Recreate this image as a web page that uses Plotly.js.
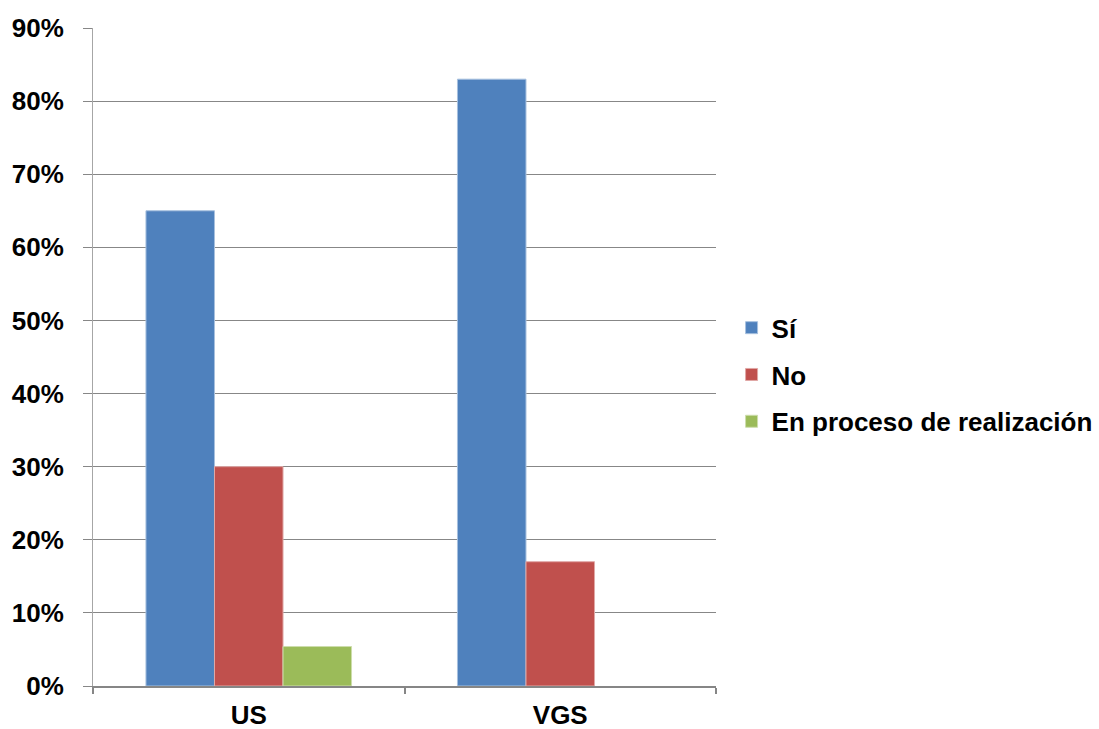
<!DOCTYPE html>
<html><head><meta charset="utf-8">
<script src="https://cdn.plot.ly/plotly-3.0.1.min.js"></script>
<style>html,body{margin:0;padding:0;background:#fff;}#chart{width:1099px;height:729px;}</style>
</head><body><div id="chart"></div>
<script>
const categories = ["US", "VGS"];
const seriesNames = ["Sí", "No", "En proceso de realización"];
const valuesSi = [65, 83];
const valuesNo = [30, 17];
const valuesProceso = [5.4, null];
const yTickVals = [0, 10, 20, 30, 40, 50, 60, 70, 80, 90];
const yTickText = ["0%", "10%", "20%", "30%", "40%", "50%", "60%", "70%", "80%", "90%"];

const colors = ["#4F81BD", "#C0504D", "#9BBB59"];
const lines = ["#A7C0DE", "#E0A8A6", "#CDDDAC"];
const allValues = [valuesSi, valuesNo, valuesProceso];

const traces = allValues.map((vals, i) => ({
  type: "bar",
  name: seriesNames[i],
  x: categories,
  y: vals,
  legendgroup: "g" + i,
  marker: {color: colors[i], line: {color: lines[i], width: 1}},
  hoverinfo: "x+y+name"
}));

const font = {family: "Liberation Sans, Arial, sans-serif", size: 26, color: "#000", weight: "bold"};

const layout = {
  width: 1099, height: 729,
  margin: {l: 93, r: 383, t: 28, b: 43, pad: 0, autoexpand: false},
  paper_bgcolor: "#fff", plot_bgcolor: "#fff",
  font: font,
  barmode: "group",
  bargap: 0.34,
  bargroupgap: 0,
  showlegend: true,
  legend: {
    x: 1.025, xanchor: "left", y: 0.473, yanchor: "middle",
    font: font, traceorder: "grouped", tracegroupgap: 10,
    bgcolor: "rgba(0,0,0,0)", itemwidth: 30
  },
  xaxis: {
    type: "category",
    showline: true, linecolor: "#868686", linewidth: 2,
    ticks: "outside", tickson: "boundaries", ticklen: 6, tickcolor: "#868686", tickwidth: 2,
    showgrid: false, tickfont: font, zeroline: false, ticklabelstandoff: 5
  },
  yaxis: {
    range: [0, 90], tickmode: "array", tickvals: yTickVals, ticktext: yTickText,
    showline: true, linecolor: "#A6A6A6", linewidth: 1,
    ticks: "outside", ticklen: 9, tickcolor: "#878787", tickwidth: 1,
    showgrid: true, gridcolor: "#878787", gridwidth: 1,
    zeroline: false, tickfont: font, ticklabelstandoff: 14
  }
};

Plotly.newPlot("chart", traces, layout, {displayModeBar: false, staticPlot: true});
</script></body></html>
